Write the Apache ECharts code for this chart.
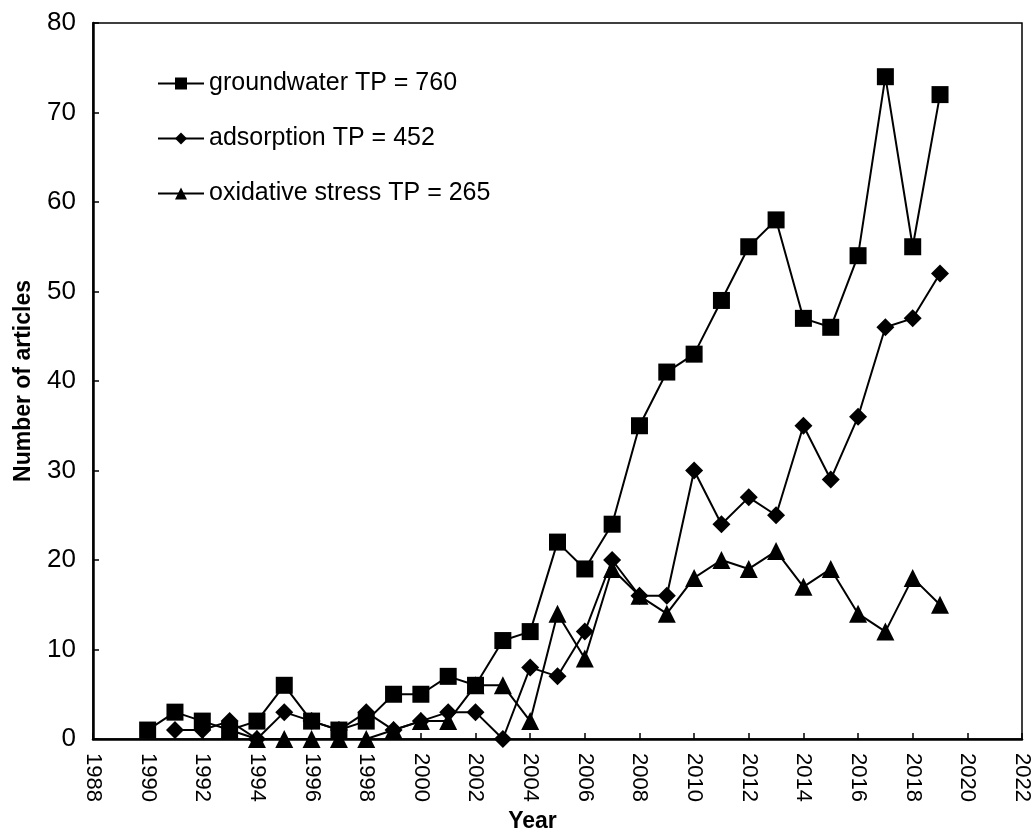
<!DOCTYPE html>
<html>
<head>
<meta charset="utf-8">
<script src="https://cdn.jsdelivr.net/npm/echarts@6/dist/echarts.min.js"></script>
<style>
  html,body{margin:0;padding:0;background:#fff;}
  #chart{width:1032px;height:831px;}
</style>
</head>
<body>
<div id="chart"></div>
<script>
// articles per year
var years = [1990,1991,1992,1993,1994,1995,1996,1997,1998,1999,2000,2001,2002,2003,2004,
             2005,2006,2007,2008,2009,2010,2011,2012,2013,2014,2015,2016,2017,2018,2019];
var groundwater = [1,3,2,1,2,6,2,1,2,5,5,7,6,11,12,22,19,24,35,41,43,49,55,58,47,46,54,74,55,72];
// adsorption starts 1991
var adsorption = [null,1,1,2,0,3,2,1,3,1,2,3,3,0,8,7,12,20,16,16,30,24,27,25,35,29,36,46,47,52];
// oxidative stress starts 1993
var oxidative = [null,null,null,1,0,0,0,0,0,1,2,2,6,6,2,14,9,19,16,14,18,20,19,21,17,19,14,12,18,15];
var names = ['groundwater TP = 760','adsorption TP = 452','oxidative stress TP = 265'];
var xTicks = {min:1988, max:2022, step:2};
var yTicks = {min:0, max:80, step:10};

function pairs(vals){
    var out = [];
    for (var i = 0; i < years.length; i++) {
        if (vals[i] !== null) out.push([years[i], vals[i]]);
    }
    return out;
}

function line(name, vals, symbol, size){
    return {
        name:name,
        type:'line',
        data:pairs(vals),
        symbol:symbol,
        symbolSize:size,
        showAllSymbol:true,
        itemStyle:{color:'#000'},
        lineStyle:{color:'#000',width:2},
        emphasis:{disabled:true},
        z:3
    };
}

var font = 'Arial, "Liberation Sans", sans-serif';
var narrow = '"Liberation Sans Narrow", "Arial Narrow", Arial, sans-serif';
var chart = echarts.init(document.getElementById('chart'));
chart.setOption({
    animation:false,
    backgroundColor:'#fff',
    grid:{left:93,right:10,top:23,bottom:92,outerBoundsMode:'none',containLabel:false,
        show:true,borderColor:'#000',borderWidth:1.5,backgroundColor:'transparent'},
    legend:{
        orient:'vertical',left:152,top:66,itemGap:30,itemWidth:46,itemHeight:15,
        textStyle:{fontSize:25,color:'#000',fontFamily:font},
        data:names
    },
    xAxis:{
        type:'value',min:xTicks.min,max:xTicks.max,interval:xTicks.step,
        name:'Year',nameLocation:'middle',nameGap:70,
        nameTextStyle:{fontSize:23,fontWeight:'bold',color:'#000',fontFamily:narrow,padding:[0,50,0,0]},
        axisLine:{lineStyle:{color:'#000',width:2.5}},
        axisTick:{inside:true,length:6,lineStyle:{color:'#000',width:1.5}},
        axisLabel:{rotate:-90,fontSize:22,color:'#000',fontFamily:font,margin:14,
            formatter:function(v){ return String(v); }},
        splitLine:{show:false}
    },
    yAxis:{
        type:'value',min:yTicks.min,max:yTicks.max,interval:yTicks.step,
        name:'Number of articles',nameLocation:'middle',nameGap:58,
        nameTextStyle:{fontSize:23,fontWeight:'bold',color:'#000',fontFamily:narrow},
        axisLine:{show:true,lineStyle:{color:'#000',width:2.5}},
        axisTick:{show:true,inside:true,length:6,lineStyle:{color:'#000',width:1.5}},
        axisLabel:{fontSize:26,color:'#000',fontFamily:font,margin:17},
        splitLine:{show:false}
    },
    series:[
        line(names[0], groundwater, 'rect', 17),
        line(names[1], adsorption, 'diamond', 18),
        line(names[2], oxidative, 'triangle', 18)
    ]
});
</script>
</body>
</html>
